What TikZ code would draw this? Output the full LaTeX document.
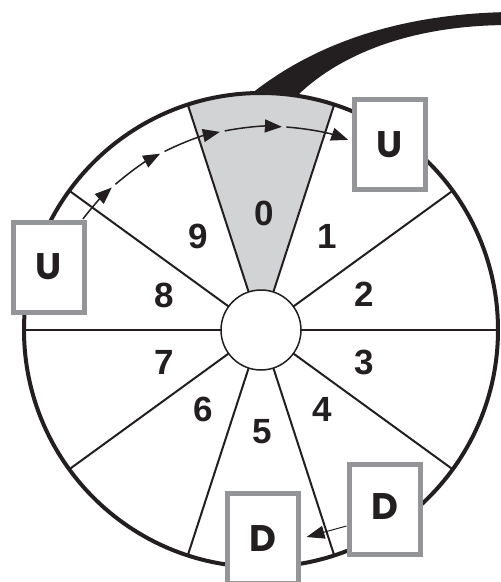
\documentclass[tikz,border=0pt]{standalone}
\usepackage{fontspec}
\setmainfont{Liberation Sans}
\newfontfamily\lettfont{Poppins}
\usetikzlibrary{arrows.meta}
\definecolor{boxgray}{HTML}{939598}
\definecolor{secgray}{HTML}{D1D3D4}
\definecolor{ink}{HTML}{231F20}
\begin{document}
\begin{tikzpicture}[x=1pt,y=1pt,
 spoke/.style={line width=2pt, draw=ink},
 rim/.style={line width=4pt, draw=ink},
 num/.style={font=\fontsize{35}{35}\selectfont\bfseries, text=ink, inner sep=0pt},
 letterbox/.style={draw=boxgray, line width=5pt, fill=white, minimum width=71pt, minimum height=90pt, inner sep=0pt, font=\lettfont\fontsize{37}{37}\selectfont\bfseries, text=ink},
 darr/.style={line width=1.5pt, draw=ink, -{Triangle[length=17pt,width=13pt]}},
 thinarr/.style={line width=1pt, draw=ink, -{Triangle[length=18pt,width=13pt]}},
]
\useasboundingbox (0,0) rectangle (501,-582);
\coordinate (C) at (261,-330);
\coordinate (A) at (270,-362);
% cable
\fill[ink] (251,-94) .. controls (300,-55) and (380,-14) .. (510,-12) -- (510,-25) .. controls (410,-25) and (340,-55) .. (299,-94) -- cycle;
% shaded sector 0
\fill[secgray] ([shift={(72:40)}]C) -- ([shift={(72:237)}]C) arc[start angle=72,end angle=108,radius=237] -- ([shift={(108:40)}]C) -- cycle;
\foreach \a in {0,36,...,324} \draw[spoke] ([shift={(\a:40)}]C) -- ([shift={(\a:237)}]C);
\draw[rim] (C) circle[radius=237];
\node[circle, draw=ink, line width=1.5pt, fill=white, minimum size=80pt, inner sep=0pt] (hub) at (C) {};
% numbers
\node[num] (n0) at (264,-213) {0};
\node[num] (n1) at (327,-236) {1};
\node[num] (n2) at (364,-294) {2};
\node[num] (n3) at (364,-362) {3};
\node[num] (n4) at (322,-409) {4};
\node[num] (n5) at (262,-432) {5};
\node[num] (n6) at (203,-409) {6};
\node[num] (n7) at (164,-362) {7};
\node[num] (n8) at (164,-295) {8};
\node[num] (n9) at (198,-236) {9};
% dashed arc of arrows
\draw[darr] ([shift={(142.6:235.5)}]A) arc[start angle=142.6, end angle=132.2, radius=235.5];
\draw[darr] ([shift={(131:235.5)}]A) arc[start angle=131, end angle=117.8, radius=235.5];
\draw[darr] ([shift={(116.6:235.5)}]A) arc[start angle=116.6, end angle=102.3, radius=235.5];
\draw[darr] ([shift={(101.1:235.5)}]A) arc[start angle=101.1, end angle=87.1, radius=235.5];
\draw[darr] ([shift={(86:235.5)}]A) arc[start angle=86, end angle=70.6, radius=235.5];
% boxes
\node[letterbox] (ur) at (390,-144.5) {U};
\node[letterbox] (ul) at (49,-267) {U};
\node[letterbox] (dr) at (384.5,-509.5) {\raisebox{6pt}{D}};
\node[letterbox] (dl) at (262.5,-538.5) {D};
\draw[thinarr] ([yshift=-16.5pt]dr.west) -- ([xshift=6pt,yshift=1.5pt]dl.east);
\end{tikzpicture}
\end{document}
